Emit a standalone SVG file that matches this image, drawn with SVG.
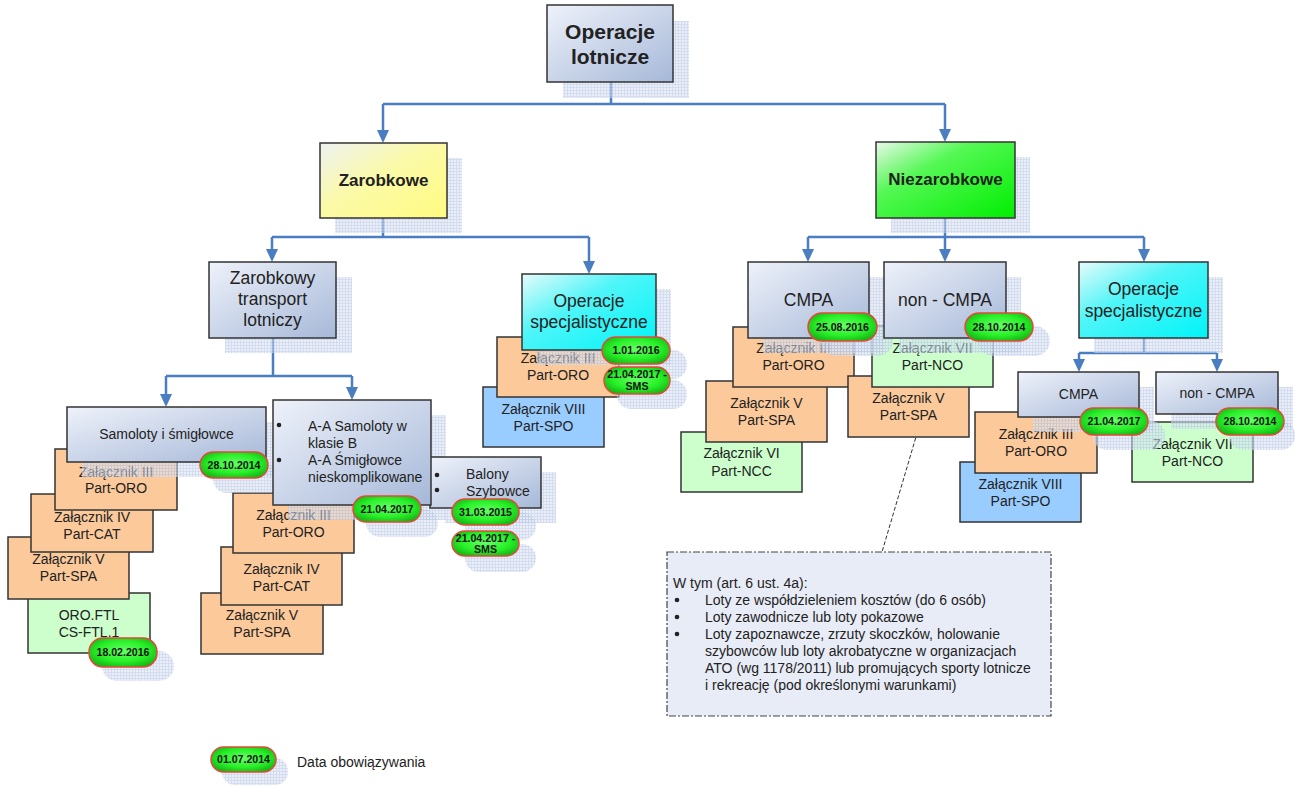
<svg xmlns="http://www.w3.org/2000/svg" width="1295" height="787" viewBox="0 0 1295 787">
<defs>
<pattern id="hatch" width="3" height="3" patternUnits="userSpaceOnUse">
<rect width="3" height="3" fill="#dde6f4"/>
<path d="M0,0.5H3M0.5,0V3" stroke="#b6c7e4" stroke-width="1"/>
</pattern>
<linearGradient id="steel" x1="0" y1="0" x2="1" y2="1">
<stop offset="0" stop-color="#eef2fa"/><stop offset="1" stop-color="#a6b8d8"/>
</linearGradient>
<linearGradient id="yellow" x1="0" y1="0" x2="1" y2="1">
<stop offset="0" stop-color="#eef2f2"/><stop offset="0.45" stop-color="#fbfaa8"/><stop offset="1" stop-color="#fffb80"/>
</linearGradient>
<linearGradient id="green" x1="0" y1="0" x2="1" y2="1">
<stop offset="0" stop-color="#e8f8e8"/><stop offset="0.35" stop-color="#55f855"/><stop offset="1" stop-color="#00ee00"/>
</linearGradient>
<linearGradient id="cyan" x1="0" y1="0" x2="1" y2="1">
<stop offset="0" stop-color="#e6fbfb"/><stop offset="0.4" stop-color="#50f5f8"/><stop offset="1" stop-color="#00f4f8"/>
</linearGradient>
<radialGradient id="pill" cx="50%" cy="45%" r="60%">
<stop offset="0" stop-color="#66ff66"/><stop offset="0.6" stop-color="#28f028"/><stop offset="1" stop-color="#15b515"/>
</radialGradient>
<style>
.sh{fill:url(#hatch);opacity:.6}
.bx{stroke:#333;stroke-width:1.5}
.st{fill:url(#steel)}
.or{fill:#fcc99b}
.lg{fill:#ccffcc}
.bl{fill:#99ccff}
.t{font-family:"Liberation Sans",Arial,sans-serif;fill:#222;text-anchor:middle}
.s{font-size:14px}
.m{font-size:17.5px}
.b{font-weight:bold}
.l{text-anchor:start}
.pl{fill:url(#pill);stroke:#e5483a;stroke-width:1.5}
.pt{font-family:"Liberation Sans",Arial,sans-serif;font-weight:bold;font-size:10.6px;fill:#111;text-anchor:middle}
.c{fill:none;stroke:#4a7dc2;stroke-width:2.5}
.ah{fill:#4a7dc2}
.dot{fill:#222}
</style>
</defs>
<rect width="1295" height="787" fill="#fff"/>

<g id="connectors">
<path class="c" d="M611,82V104M383,104H945M383,104V131M945,104V130"/>
<path class="c" d="M383,218V237M272,237H589M272,237V250M589,237V262"/>
<path class="c" d="M273,338V376M166,376H352M166,376V395M352,376V388"/>
<path class="c" d="M945,218V237M808,237H1144M808,237V250M945,237V250M1144,237V250"/>
<path class="c" d="M1144,338V353M1079,353H1217M1079,353V360M1217,353V360"/>
<g class="ah">
<path d="M377,130H389L383,143Z"/>
<path d="M939,129H951L945,142Z"/>
<path d="M266,249H278L272,262Z"/>
<path d="M583,261H595L589,274Z"/>
<path d="M160,394H172L166,407Z"/>
<path d="M346,387H358L352,400Z"/>
<path d="M802,249H814L808,262Z"/>
<path d="M939,249H951L945,262Z"/>
<path d="M1138,249H1150L1144,262Z"/>
<path d="M1073,359H1085L1079,372Z"/>
<path d="M1211,359H1223L1217,372Z"/>
</g>
<path d="M931,386L882,552" fill="none" stroke="#333" stroke-width="1" stroke-dasharray="4,2"/>
</g>

<g id="subboxes">
<g id="sam-ftl"><rect class="bx lg" x="28" y="593" width="122" height="60"/><text class="t s" x="89" y="620">ORO.FTL</text><text class="t s" x="89" y="637">CS-FTL.1</text></g>
<g id="sam-spa"><rect class="bx or" x="8" y="537" width="121" height="62"/><text class="t s" x="68.5" y="564">Załącznik V</text><text class="t s" x="68.5" y="581">Part-SPA</text></g>
<g id="sam-cat"><rect class="bx or" x="31" y="494" width="122" height="58"/><text class="t s" x="92" y="522">Załącznik IV</text><text class="t s" x="92" y="539">Part-CAT</text></g>
<g id="sam-oro"><rect class="bx or" x="55" y="449" width="122" height="61"/><text class="t s" x="116" y="477">Załącznik III</text><text class="t s" x="116" y="493">Part-ORO</text></g>

<g id="aa-spa"><rect class="bx or" x="201" y="593" width="122" height="61"/><text class="t s" x="262" y="620">Załącznik V</text><text class="t s" x="262" y="637">Part-SPA</text></g>
<g id="aa-cat"><rect class="bx or" x="221" y="547" width="121" height="58"/><text class="t s" x="281.5" y="574">Załącznik IV</text><text class="t s" x="281.5" y="591">Part-CAT</text></g>
<g id="aa-oro"><rect class="bx or" x="233" y="493" width="121" height="60"/><text class="t s" x="293.5" y="520">Załącznik III</text><text class="t s" x="293.5" y="537">Part-ORO</text></g>

<g id="os1-spo"><rect class="bx bl" x="483" y="387" width="121" height="60"/><text class="t s" x="543.5" y="414">Załącznik VIII</text><text class="t s" x="543.5" y="431">Part-SPO</text></g>
<g id="os1-oro"><rect class="bx or" x="497" y="337" width="122" height="60"/><text class="t s" x="558" y="363">Załącznik III</text><text class="t s" x="558" y="380">Part-ORO</text></g>

<g id="cmpa-ncc"><rect class="bx lg" x="681" y="432" width="121" height="60"/><text class="t s" x="741.5" y="458">Załącznik VI</text><text class="t s" x="741.5" y="476">Part-NCC</text></g>
<g id="cmpa-spa"><rect class="bx or" x="706" y="381" width="121" height="61"/><text class="t s" x="766.5" y="408">Załącznik V</text><text class="t s" x="766.5" y="425">Part-SPA</text></g>
<g id="cmpa-oro"><rect class="bx or" x="733" y="327" width="121" height="60"/><text class="t s" x="793.5" y="353">Załącznik III</text><text class="t s" x="793.5" y="370">Part-ORO</text></g>

<g id="ncmpa-spa"><rect class="bx or" x="848" y="376" width="121" height="61"/><text class="t s" x="908.5" y="403">Załącznik V</text><text class="t s" x="908.5" y="420">Part-SPA</text></g>
<g id="ncmpa-nco"><rect class="bx lg" x="872" y="326" width="121" height="61"/><text class="t s" x="932.5" y="353">Załącznik VII</text><text class="t s" x="932.5" y="370">Part-NCO</text></g>

<g id="os2-spo"><rect class="bx bl" x="960" y="462" width="121" height="60"/><text class="t s" x="1020.5" y="489">Załącznik VIII</text><text class="t s" x="1020.5" y="506">Part-SPO</text></g>
<g id="os2-oro"><rect class="bx or" x="975" y="412" width="122" height="61"/><text class="t s" x="1036" y="439">Załącznik III</text><text class="t s" x="1036" y="456">Part-ORO</text></g>
<g id="os2-nco"><rect class="bx lg" x="1132" y="422" width="121" height="60"/><text class="t s" x="1192.5" y="449">Załącznik VII</text><text class="t s" x="1192.5" y="466">Part-NCO</text></g>
</g>

<g id="shadows">
<rect class="sh" x="563" y="21" width="126" height="77"/>
<rect class="sh" x="335" y="158" width="127" height="75"/>
<rect class="sh" x="891" y="157" width="139" height="76"/>
<rect class="sh" x="225" y="277" width="127" height="76"/>
<rect class="sh" x="537" y="289" width="134" height="76"/>
<rect class="sh" x="763" y="277" width="121" height="76"/>
<rect class="sh" x="899" y="277" width="122" height="76"/>
<rect class="sh" x="1094" y="277" width="129" height="76"/>
<rect class="sh" x="1033" y="387" width="121" height="45"/>
<rect class="sh" x="1171" y="387" width="122" height="42"/>
<rect class="sh" x="82" y="422" width="199" height="55"/>
<rect class="sh" x="288" y="415" width="158" height="105"/>
<rect class="sh" x="445" y="472" width="111" height="51"/>
<rect class="sh" x="213" y="465" width="72" height="28" rx="14"/>
<rect class="sh" x="102" y="651" width="72" height="30" rx="15"/>
<rect class="sh" x="366" y="509" width="72" height="28" rx="14"/>
<rect class="sh" x="465" y="512" width="71" height="28" rx="14"/>
<rect class="sh" x="465" y="544" width="71" height="28" rx="14"/>
<rect class="sh" x="615" y="350" width="72" height="29" rx="14"/>
<rect class="sh" x="617" y="380" width="70" height="29" rx="14"/>
<rect class="sh" x="821" y="326" width="72" height="30" rx="15"/>
<rect class="sh" x="978" y="326" width="72" height="30" rx="15"/>
<rect class="sh" x="1093" y="421" width="72" height="29" rx="14"/>
<rect class="sh" x="1229" y="421" width="66" height="29" rx="14"/>
<rect class="sh" x="222" y="758" width="66" height="27" rx="13"/>
</g>

<g id="n-root"><rect class="bx st" x="547" y="5" width="126" height="77"/><text class="t b" font-size="21" x="610" y="39">Operacje</text><text class="t b" font-size="21" x="610" y="64">lotnicze</text></g>
<g id="n-zarobkowe"><rect class="bx" fill="url(#yellow)" x="320" y="143" width="127" height="75"/><text class="t b" font-size="17" x="383.5" y="186">Zarobkowe</text></g>
<g id="n-niezarobkowe"><rect class="bx" fill="url(#green)" x="876" y="142" width="139" height="76"/><text class="t b" font-size="17" x="945.5" y="185">Niezarobkowe</text></g>
<g id="n-transport"><rect class="bx st" x="209" y="262" width="127" height="76"/><text class="t m" x="272.5" y="284">Zarobkowy</text><text class="t m" x="272.5" y="305">transport</text><text class="t m" x="272.5" y="326">lotniczy</text></g>
<g id="n-os1"><rect class="bx" fill="url(#cyan)" x="522" y="274" width="134" height="76"/><text class="t m" x="589" y="307">Operacje</text><text class="t m" x="589" y="328">specjalistyczne</text></g>
<g id="n-cmpa"><rect class="bx st" x="748" y="262" width="121" height="76"/><text class="t m" x="808.5" y="306">CMPA</text></g>
<g id="n-ncmpa"><rect class="bx st" x="884" y="262" width="122" height="76"/><text class="t m" x="945" y="306">non - CMPA</text></g>
<g id="n-os2"><rect class="bx" fill="url(#cyan)" x="1079" y="262" width="129" height="76"/><text class="t m" x="1143.5" y="295">Operacje</text><text class="t m" x="1143.5" y="317">specjalistyczne</text></g>
<g id="n-cmpa2"><rect class="bx st" x="1018" y="372" width="121" height="45"/><text class="t s" x="1078.5" y="399">CMPA</text></g>
<g id="n-ncmpa2"><rect class="bx st" x="1156" y="372" width="122" height="42"/><text class="t s" x="1217" y="398">non - CMPA</text></g>
<g id="n-samoloty"><rect class="bx st" x="67" y="407" width="199" height="55"/><text class="t s" x="166.5" y="439">Samoloty i śmigłowce</text></g>
<g id="n-balony"><rect class="bx st" x="430" y="457" width="111" height="51"/><circle class="dot" cx="437" cy="475" r="2.3"/><circle class="dot" cx="437" cy="490" r="2.3"/><text class="t s l" x="466" y="479">Balony</text><text class="t s l" x="466" y="496">Szybowce</text></g>
<g id="n-aa"><rect class="bx st" x="273" y="400" width="158" height="105"/><circle class="dot" cx="279" cy="425" r="2.3"/><circle class="dot" cx="279" cy="460" r="2.3"/><text class="t s l" x="308" y="431">A-A Samoloty w</text><text class="t s l" x="308" y="448">klasie B</text><text class="t s l" x="308" y="465">A-A Śmigłowce</text><text class="t s l" x="308" y="482">nieskomplikowane</text></g>

<g id="pills">
<rect class="pl" x="200" y="452" width="68" height="26" rx="13"/><text class="pt" x="234" y="469">28.10.2014</text>
<rect class="pl" x="89" y="638" width="68" height="29" rx="14"/><text class="pt" x="123" y="656">18.02.2016</text>
<rect class="pl" x="353" y="496" width="68" height="26" rx="13"/><text class="pt" x="387" y="513">21.04.2017</text>
<rect class="pl" x="452" y="499" width="67" height="26" rx="13"/><text class="pt" x="485.5" y="516">31.03.2015</text>
<rect class="pl" x="452" y="531" width="67" height="25" rx="12.5"/><text class="pt" x="485.5" y="542">21.04.2017 -</text><text class="pt" x="485.5" y="553">SMS</text>
<rect class="pl" x="602" y="337" width="68" height="27" rx="13.5"/><text class="pt" x="636" y="354">1.01.2016</text>
<rect class="pl" x="604" y="367" width="66" height="27" rx="13.5"/><text class="pt" x="637" y="378">21.04.2017 -</text><text class="pt" x="637" y="390">SMS</text>
<rect class="pl" x="808" y="313" width="69" height="28" rx="14"/><text class="pt" x="842.5" y="331">25.08.2016</text>
<rect class="pl" x="965" y="313" width="68" height="28" rx="14"/><text class="pt" x="999" y="331">28.10.2014</text>
<rect class="pl" x="1080" y="408" width="68" height="27" rx="13.5"/><text class="pt" x="1114" y="425">21.04.2017</text>
<rect class="pl" x="1216" y="408" width="68" height="27" rx="13.5"/><text class="pt" x="1250" y="425">28.10.2014</text>
</g>

<g id="note">
<rect x="667" y="552" width="384" height="164" fill="#e8ecf6" stroke="#444" stroke-width="1.2" stroke-dasharray="7,2,2,2"/>
<text class="t s l" x="673" y="588">W tym (art. 6 ust. 4a):</text>
<circle class="dot" cx="677" cy="600" r="2.3"/><circle class="dot" cx="677" cy="617" r="2.3"/><circle class="dot" cx="677" cy="634" r="2.3"/>
<text class="t s l" x="705" y="605">Loty ze współdzieleniem kosztów (do 6 osób)</text>
<text class="t s l" x="705" y="622">Loty zawodnicze lub loty pokazowe</text>
<text class="t s l" x="705" y="639">Loty zapoznawcze, zrzuty skoczków, holowanie</text>
<text class="t s l" x="705" y="656">szybowców lub loty akrobatyczne w organizacjach</text>
<text class="t s l" x="705" y="673">ATO (wg 1178/2011) lub promujących sporty lotnicze</text>
<text class="t s l" x="705" y="690">i rekreację (pod określonymi warunkami)</text>
</g>

<g id="legend">
<rect class="pl" x="211" y="747" width="65" height="25" rx="12.5"/><text class="pt" x="243.5" y="763">01.07.2014</text>
<text class="t s l" x="297" y="767">Data obowiązywania</text>
</g>
</svg>
